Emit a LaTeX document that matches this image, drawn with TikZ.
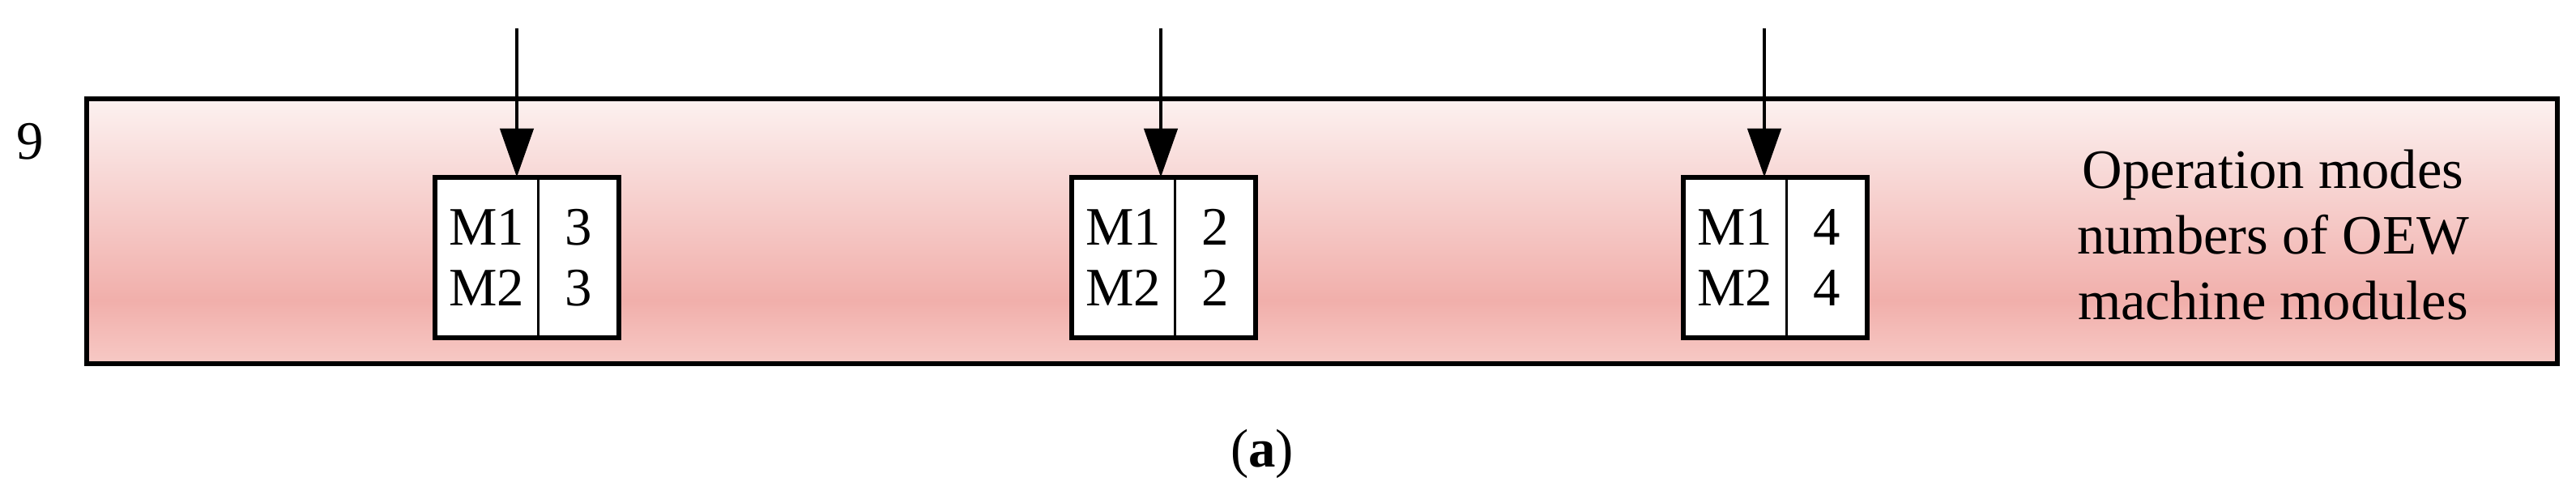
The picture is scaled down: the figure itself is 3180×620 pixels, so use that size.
\documentclass[tikz,border=0pt]{standalone}
\usepackage{fontspec}
\setmainfont{Liberation Serif}
\usetikzlibrary{arrows.meta}
\definecolor{layertop}{RGB}{252,241,240}
\definecolor{layermid}{RGB}{241,175,171}
\definecolor{layerbot}{RGB}{247,201,197}
\pgfdeclareverticalshading{layershade}{100bp}{
    color(0bp)=(layerbot); color(25bp)=(layerbot); color(37bp)=(layermid);
    color(75bp)=(layertop); color(100bp)=(layertop)
}
\tikzset{
    >={Triangle[length=0.6cm, width=0.41cm]}, % Default arrow tip
    cell/.style={fill=white, inner sep=0pt, minimum height=1.97cm, align=center}
}
\def\boxy{318}

\begin{document}
\begin{tikzpicture}
    [x=0.01cm, y=-0.01cm, font=\fontsize{19}{21.3}\selectfont]
    \useasboundingbox (0,0) rectangle (3180,620);
    \draw
        node (layer) at (1632,285.5)
            [draw, line width=1.6pt, shading=layershade,
             minimum width=30.48cm, minimum height=3.27cm] {}
        node (num) at (37,175) {9}
        node (note) at (2806,290)
            [align=center, font=\fontsize{19.5}{23}\selectfont]
            {Operation modes\\numbers of OEW\\machine modules}
        node (cap) at (1558,560) {(\textbf{a})}
    ;
    \foreach \bx/\n/\ax in {537/3/638, 1323/2/1433, 2078/4/2178} {
        \node (m\n) [cell, minimum width=1.26cm, anchor=west] at (\bx,\boxy) {M1\\M2};
        \node (v\n) [cell, minimum width=0.98cm, anchor=west] at (m\n.east) {\n\\\n};
        \draw
            [line width=1pt]
            (m\n.north east) -- (m\n.south east)
        ;
        \draw
            [line width=1.7pt]
            (m\n.north west) rectangle (v\n.south east)
        ;
        \coordinate (s\n) at (\ax,35);
        \draw
            [->, line width=1.25pt]
            (s\n) -- (s\n |- m\n.north)
        ;
    }
\end{tikzpicture}
\end{document}
